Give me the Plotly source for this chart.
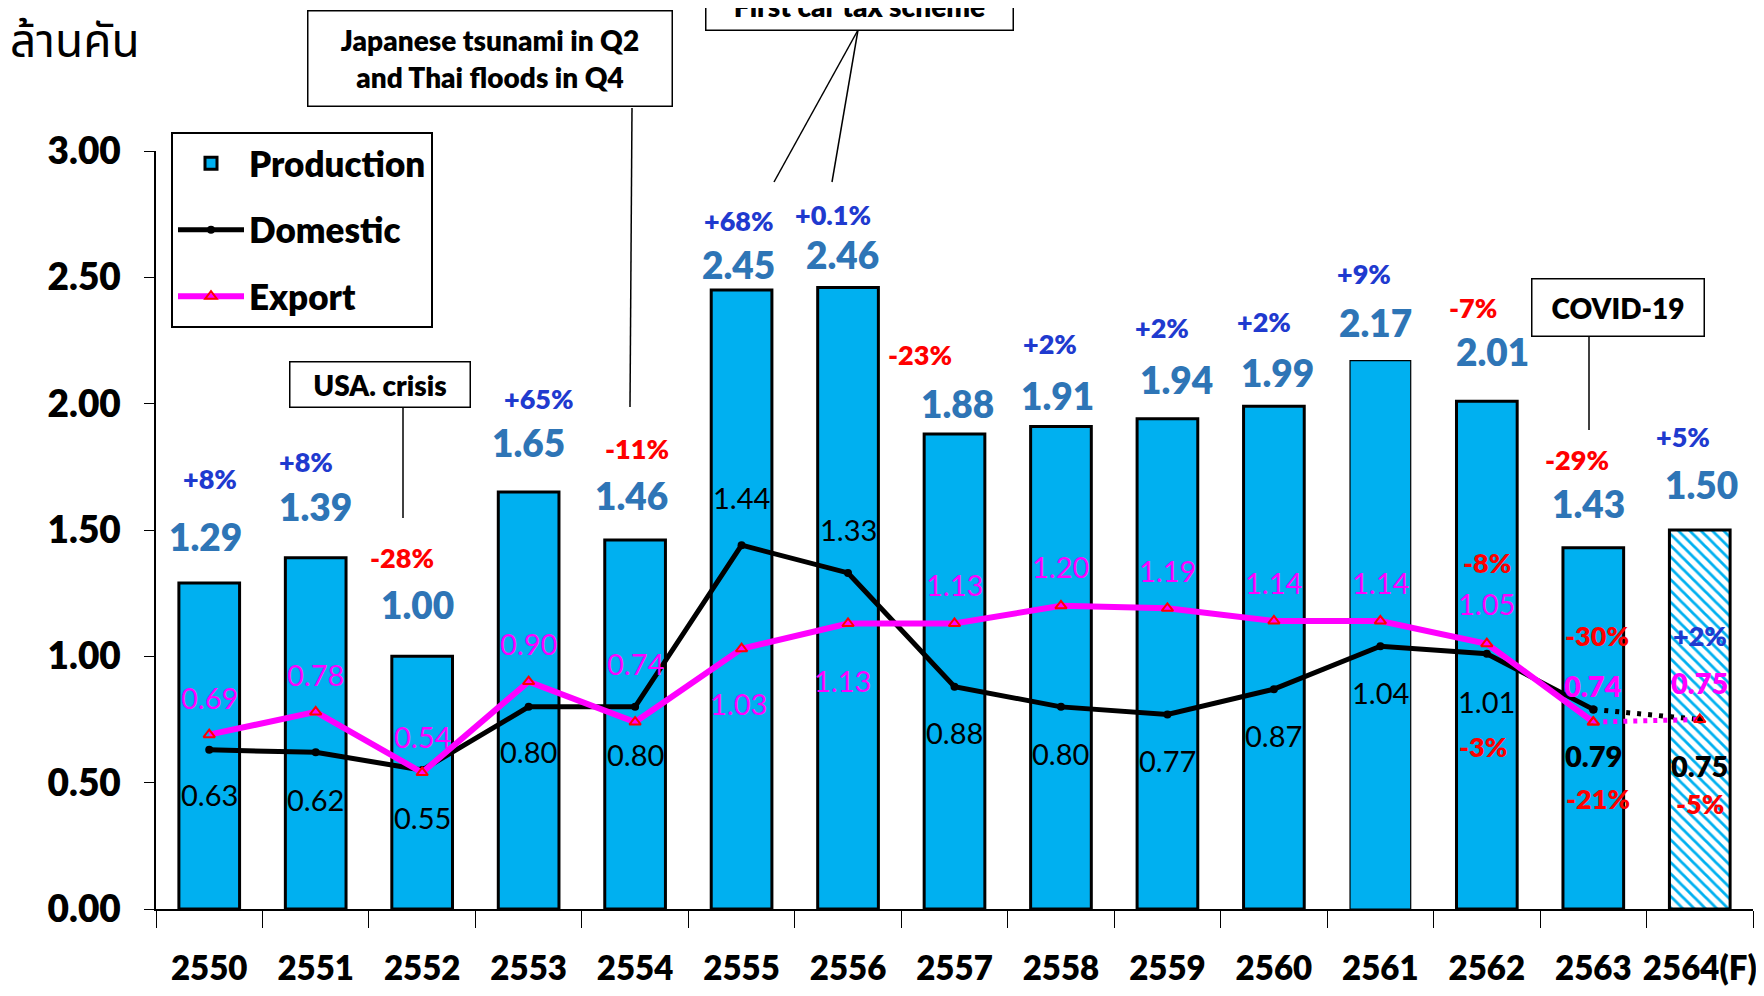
import plotly.graph_objects as go

years = ["2550", "2551", "2552", "2553", "2554", "2555", "2556", "2557",
         "2558", "2559", "2560", "2561", "2562", "2563", "2564(F)"]
production = [1.29, 1.39, 1.00, 1.65, 1.46, 2.45, 2.46, 1.88, 1.91, 1.94, 1.99, 2.17, 2.01, 1.43, 1.50]
production_growth = ["+8%", "+8%", "-28%", "+65%", "-11%", "+68%", "+0.1%", "-23%",
                     "+2%", "+2%", "+2%", "+9%", "-7%", "-29%", "+5%"]
domestic = [0.63, 0.62, 0.55, 0.80, 0.80, 1.44, 1.33, 0.88, 0.80, 0.77, 0.87, 1.04, 1.01, 0.79, 0.75]
export = [0.69, 0.78, 0.54, 0.90, 0.74, 1.03, 1.13, 1.13, 1.20, 1.19, 1.14, 1.14, 1.05, 0.74, 0.75]
# growth notes for domestic / export, shown only for the last three years
recent_years = ["2562", "2563", "2564(F)"]
domestic_growth = ["-3%", "-21%", "-5%"]
export_growth = ["-8%", "-30%", "+2%"]

FONT = "Lato, Roboto, Liberation Sans, sans-serif"
HEAVY = 800
BAR_BLUE = "#00B0F0"
VALUE_BLUE = "#2E75B6"
UP_BLUE = "#1F3ACF"
DOWN_RED = "#FF0000"
MAGENTA = "#FF00FF"

# label offsets in pixels (x shift, y shift) relative to the point they describe
prod_dx = [-4, 0, -5, 0, -4, -3, -6, 3, -3, 9, 4, -5, 6, -5, 2]
prod_dy = [47, 51, 52, 50, 45, 25, 33, 30, 31, 39, 34, 38, 50, 44, 46]
pct_dx = [1, -10, -20, 10, 2, -3, -15, -35, -11, -5, -10, -16, -14, -16, -17]
pct_dy = [105, 96, 99, 94, 92, 69, 73, 79, 83, 91, 85, 87, 94, 88, 94]
dom_dy = [-45, -47, -47, -45, -48, 48, 43, -46, -47, -46, -46, -46, -48, -46, -46]
exp_dy = [37, 37, 36, 38, 59, -55, -57, 39, 39, 38, 38, 38, 40, 37, 37]
exp_dx = [0, 0, 0, 0, 0, -3, -6, 0, 0, 0, 0, 0, 0, 0, 0]

# the page adds an 8px body margin around the figure
PAD = 8
W, H = 1764 - 2 * PAD, 996 - 2 * PAD
# plot area in page pixels
L, R, T, B = 156, 1753, 151, 909


def px_x(x):
    return (x - L) / (R - L)


def px_y(y):
    return (B - y) / (B - T)


def growth_color(txt):
    return DOWN_RED if txt.startswith("-") else UP_BLUE


forecast = [y.endswith("(F)") for y in years]
fig = go.Figure()

fig.add_trace(go.Bar(
    x=years, y=production, name="Production", legendgroup="p",
    marker=dict(
        color=BAR_BLUE,
        line=dict(color="black", width=[1.2 if y == "2561" else 3 for y in years]),
        pattern=dict(shape=["\\" if f else "" for f in forecast],
                     fillmode="replace", size=8, solidity=0.35),
    ),
    width=0.57,
))

fig.add_trace(go.Scatter(
    x=years[:-1], y=domestic[:-1], name="Domestic", legendgroup="d",
    mode="lines+markers", line=dict(color="black", width=5),
    marker=dict(symbol="circle", size=8, color="black"),
))
fig.add_trace(go.Scatter(
    x=years[-2:], y=domestic[-2:], showlegend=False, legendgroup="d",
    mode="lines+markers", line=dict(color="black", width=5, dash="4px,7px"),
    marker=dict(symbol="circle", size=8, color="black"),
))
fig.add_trace(go.Scatter(
    x=years[:-1], y=export[:-1], name="Export", legendgroup="e",
    mode="lines+markers", line=dict(color=MAGENTA, width=6),
    marker=dict(symbol="triangle-up-open", size=10, color="red", line=dict(width=2)),
))
fig.add_trace(go.Scatter(
    x=years[-2:], y=export[-2:], showlegend=False, legendgroup="e",
    mode="lines+markers", line=dict(color=MAGENTA, width=5, dash="4px,6px"),
    marker=dict(symbol="triangle-up-open", size=10, color="red", line=dict(width=2)),
))

# annotations on a category axis take the category's serial number
ann = []
for i in range(len(years)):
    ann.append(dict(x=i, y=production[i], text=f"{production[i]:.2f}", xshift=prod_dx[i], yshift=prod_dy[i],
                    font=dict(family=FONT, size=37, color=VALUE_BLUE, weight=HEAVY)))
    ann.append(dict(x=i, y=production[i], text=production_growth[i], xshift=pct_dx[i], yshift=pct_dy[i],
                    font=dict(family=FONT, size=27, color=growth_color(production_growth[i]), weight=HEAVY)))
    strong = HEAVY if i >= len(years) - 2 else "normal"
    ann.append(dict(x=i, y=domestic[i], text=f"{domestic[i]:.2f}", yshift=dom_dy[i],
                    font=dict(family=FONT, size=29, color="black", weight=strong)))
    ann.append(dict(x=i, y=export[i], text=f"{export[i]:.2f}", xshift=exp_dx[i], yshift=exp_dy[i],
                    font=dict(family=FONT, size=29, color=MAGENTA, weight=strong)))

for k, yr in enumerate(recent_years):
    i = years.index(yr)
    ann.append(dict(x=i, y=export[i], text=export_growth[k], xshift=[0, 4, 0][k], yshift=[81, 87, 84][k],
                    font=dict(family=FONT, size=27, color=growth_color(export_growth[k]), weight=HEAVY)))
    ann.append(dict(x=i, y=domestic[i], text=domestic_growth[k], xshift=[-4, 5, 0][k], yshift=[-93, -89, -84][k],
                    font=dict(family=FONT, size=27, color=growth_color(domestic_growth[k]), weight=HEAVY)))

for a in ann:
    a.update(showarrow=False, xref="x", yref="y")

# event call-out boxes (page pixel positions)
callouts = [
    ("Japanese tsunami in Q2<br>and Thai floods in Q4", 489.5, 58, 363, 94),
    ("First car tax scheme", 859, 5, 306, 48),
    ("USA. crisis", 379.5, 384, 179, 44),
    ("COVID-19", 1617.5, 307, 171, 56),
]
for txt, cx, cy, w, h in callouts:
    ann.append(dict(text=txt, x=px_x(cx), y=px_y(cy), xref="paper", yref="paper",
                    xanchor="center", yanchor="middle", showarrow=False, width=w, height=h,
                    bordercolor="black", borderwidth=1.5, borderpad=0, bgcolor="white",
                    font=dict(family=FONT, size=28, color="black", weight=HEAVY)))

leaders = [((632, 108), (630, 407)), ((858, 30), (774, 182)), ((858, 30), (832, 182)),
           ((403, 408), (403, 518)), ((1589, 337), (1589, 430))]
shapes = [dict(type="line", xref="paper", yref="paper", x0=px_x(a[0]), y0=px_y(a[1]),
               x1=px_x(b[0]), y1=px_y(b[1]), line=dict(color="black", width=1.5))
          for a, b in leaders]

ann.append(dict(text="ล้านคัน", x=px_x(75), y=px_y(43), xref="paper", yref="paper",
                xanchor="center", yanchor="middle", showarrow=False,
                font=dict(family="Noto Sans Thai, Tahoma, Loma, sans-serif", size=46, color="black")))

fig.update_layout(
    width=W, height=H,
    margin=dict(l=L - PAD, r=W - (R - PAD), t=T - PAD, b=H - (B - PAD), autoexpand=False),
    paper_bgcolor="white", plot_bgcolor="white",
    barmode="overlay",
    annotations=ann, shapes=shapes,
    showlegend=True,
    legend=dict(x=px_x(171), y=px_y(132), xanchor="left", yanchor="top",
                bgcolor="white", bordercolor="black", borderwidth=2,
                traceorder="grouped", tracegroupgap=18, itemwidth=66,
                font=dict(family=FONT, size=35, color="black", weight=HEAVY)),
    xaxis=dict(type="category", range=[-0.5, len(years) - 0.5],
               showline=True, linecolor="black", linewidth=2,
               ticks="outside", tickson="boundaries", ticklen=17, tickcolor="black", tickwidth=1,
               ticklabelstandoff=29, tickangle=0, showgrid=False,
               tickfont=dict(family=FONT, size=33, color="black", weight=HEAVY)),
    yaxis=dict(range=[0, 3], dtick=0.5, tickformat=".2f", showline=True, linecolor="black",
               linewidth=1.5, ticks="outside", ticklen=10, tickcolor="black", showgrid=False,
               zeroline=False, ticklabelstandoff=16,
               tickfont=dict(family=FONT, size=37, color="black", weight=HEAVY)),
)

fig.write_html("out.html")
